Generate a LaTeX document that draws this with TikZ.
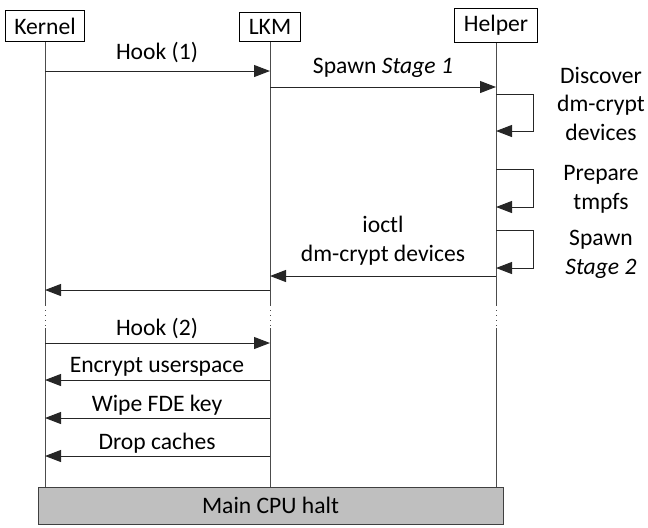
\documentclass[tikz,border=0pt]{standalone}
\usepackage{fontspec}
\setmainfont{Carlito}
\usetikzlibrary{arrows.meta}
\begin{document}
\begin{tikzpicture}[x=0.5pt,y=-0.5pt,
  font=\fontsize{11.8}{14.25}\selectfont,
  actor/.style={draw, line width=0.5pt, inner xsep=4.5pt, inner ysep=3.5pt, anchor=south},
  life/.style={draw=black!70, line width=0.5pt},
  gap/.style={draw=black!70, line width=0.5pt, dotted},
  msg/.style={draw=black!85, line width=0.5pt, -{Triangle[length=8pt,width=6pt]}},
  lbl/.style={align=center, inner sep=0pt, anchor=base},
  halt/.style={draw=black!75, fill=black!25, line width=0.5pt},
]
\useasboundingbox (0,0) rectangle (648,527);
% actors
\node[actor] (kernel) at (45,42) {Kernel};
\node[actor] (lkm) at (270,42) {LKM};
\node[actor] (helper) at (496,43) {Helper};
% lifeline break points
\coordinate (kb1) at (45,305); \coordinate (kb2) at (45,328); \coordinate (ke) at (45,487);
\coordinate (lb1) at (270,305); \coordinate (lb2) at (270,328); \coordinate (le) at (270,487);
\coordinate (hb1) at (496,305); \coordinate (hb2) at (496,328); \coordinate (he) at (496,487);
\draw[life] (kernel.south) -- (kb1); \draw[gap] (kb1) -- (kb2); \draw[life] (kb2) -- (ke);
\draw[life] (lkm.south) -- (lb1); \draw[gap] (lb1) -- (lb2); \draw[life] (lb2) -- (le);
\draw[life] (helper.south) -- (hb1); \draw[gap] (hb1) -- (hb2); \draw[life] (hb2) -- (he);
% message end points
\coordinate (k1) at (45,71);   \coordinate (l1) at (270,71);
\coordinate (l2) at (270,87);  \coordinate (h2) at (496,87);
\coordinate (h3a) at (496,94); \coordinate (h3b) at (496,131);
\coordinate (h4a) at (496,169); \coordinate (h4b) at (496,207);
\coordinate (h5a) at (496,230); \coordinate (h5b) at (496,268);
\coordinate (h6) at (496,276); \coordinate (l6) at (270,276);
\coordinate (l7) at (270,290); \coordinate (k7) at (45,290);
\coordinate (k8) at (45,343);  \coordinate (l8) at (270,343);
\coordinate (l9) at (270,380); \coordinate (k9) at (45,380);
\coordinate (l10) at (270,418); \coordinate (k10) at (45,418);
\coordinate (l11) at (270,456); \coordinate (k11) at (45,456);
% messages
\draw[msg] (k1) -- (l1);
\node[lbl] (t1) at (157,59) {Hook (1)};
\draw[msg] (l2) -- (h2);
\node[lbl] (t2) at (383,73) {Spawn \textit{Stage 1}};
\draw[msg] (h3a) -| (533,131) -- (h3b);
\node[lbl] (t3) at (601,140) {Discover\\dm-crypt\\devices};
\draw[msg] (h4a) -| (533,207) -- (h4b);
\node[lbl] (t4) at (601,209) {Prepare\\tmpfs};
\draw[msg] (h5a) -| (533,268) -- (h5b);
\node[lbl] (t5) at (601,274) {Spawn\\\textit{Stage 2}};
\draw[msg] (h6) -- (l6);
\node[lbl] (t6) at (383,261) {ioctl\\dm-crypt devices};
\draw[msg] (l7) -- (k7);
\draw[msg] (k8) -- (l8);
\node[lbl] (t8) at (157,335) {Hook (2)};
\draw[msg] (l9) -- (k9);
\node[lbl] (t9) at (157,372) {Encrypt userspace};
\draw[msg] (l10) -- (k10);
\node[lbl] (t10) at (157,411) {Wipe FDE key};
\draw[msg] (l11) -- (k11);
\node[lbl] (t11) at (157,449) {Drop caches};
% halt bar
\draw[halt] (38,487) rectangle (503,524);
\node (halttext) at (270.5,505.5) {Main CPU halt};
\end{tikzpicture}
\end{document}
